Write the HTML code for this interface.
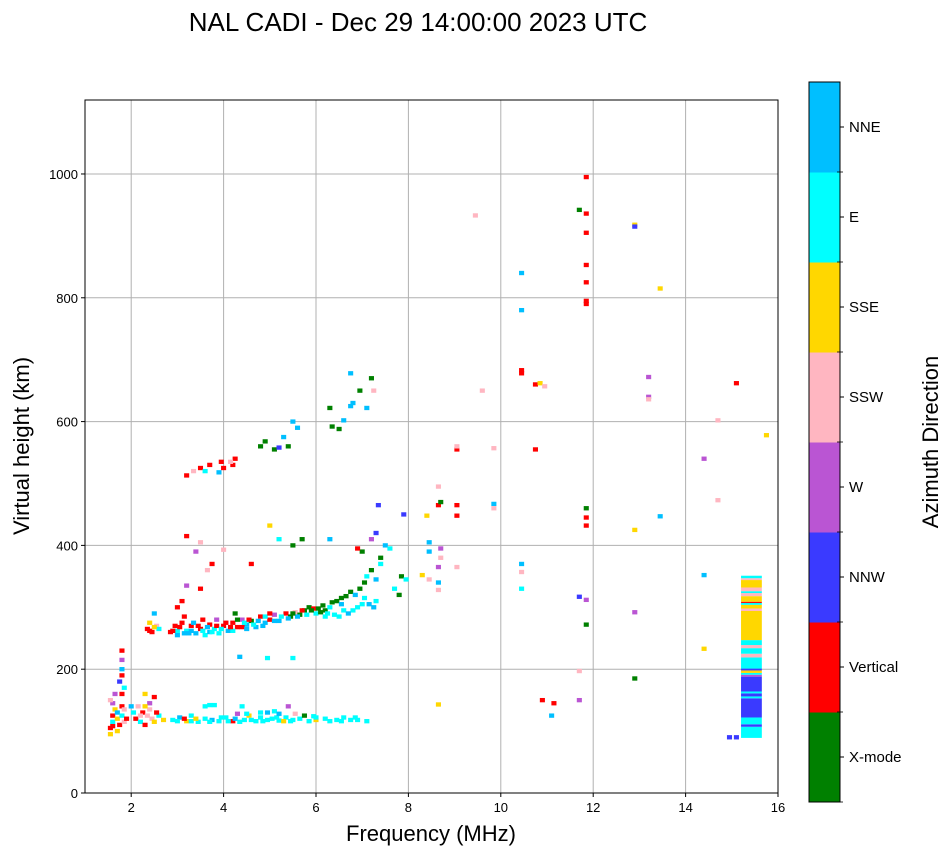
<!DOCTYPE html>
<html><head><meta charset="utf-8"><style>
body{margin:0;background:#fff;}
svg text{font-family:"Liberation Sans",sans-serif;}
</style></head><body>
<svg id="chart" width="951" height="856" xmlns="http://www.w3.org/2000/svg">
<text x="418" y="31" font-size="26" text-anchor="middle">NAL CADI - Dec 29 14:00:00 2023 UTC</text>
<g id="grid"></g>
<g id="marks"></g>
<rect x="85" y="100" width="693" height="693" fill="none" stroke="#000" stroke-width="1"/>
<g id="axes"></g>
<text x="431" y="841" font-size="22" text-anchor="middle">Frequency (MHz)</text>
<text transform="translate(29,446) rotate(-90)" font-size="22" text-anchor="middle">Virtual height (km)</text>
<g id="cbar"></g>
<text transform="translate(938,442) rotate(-90)" font-size="22" text-anchor="middle">Azimuth Direction</text>
</svg>
<script>
const categories=["X-mode","Vertical","NNW","W","SSW","SSE","E","NNE"];
const catColors=["#008000","#ff0000","#3a3aff","#ba55d3","#ffb6c1","#ffd700","#00ffff","#00bfff"];
const xTicks=[2,4,6,8,10,12,14,16];
const yTicks=[0,200,400,600,800,1000];
const pts=[
[1.55,95,5],[1.55,105,1],[1.6,115,6],[1.6,125,1],[1.65,135,5],[1.6,145,3],[1.7,120,5],[1.7,130,7],[1.75,110,1],[1.8,140,1],[1.8,125,6],[1.85,115,4],[1.8,160,1],[1.8,200,7],[1.8,215,3],[1.8,230,1],[1.75,180,2],[1.85,170,6],[1.8,190,1],[1.55,150,4],[1.65,160,3],[1.6,108,1],[1.7,100,5],[1.85,135,4],[1.9,120,1],
[2.05,130,6],[2.1,120,1],[2.15,140,4],[2.2,115,6],[2.25,130,1],[2.3,110,1],[2.3,160,5],[2.35,125,4],[2.4,145,3],[2.45,120,4],[2.5,115,5],[2.5,155,1],[2.6,125,6],[2.7,118,5],[2.4,135,4],[2.3,140,5],[2.2,125,4],[2.55,130,1],[2.0,140,7],
[2.9,118,6],[3.05,122,7],[3.2,116,5],[3.3,125,6],[3.45,115,6],[3.6,120,6],[3.6,140,6],[3.75,118,7],[3.8,142,6],[3.9,116,6],[4.05,122,6],[4.2,116,1],[4.3,128,3],[4.4,140,6],[4.45,118,6],[4.55,125,5],[4.7,116,6],[4.8,122,6],[4.95,118,6],[5.05,120,6],[5.1,132,6],[5.2,117,6],[5.35,122,6],[5.4,140,3],[5.5,118,6],[5.65,120,6],[5.75,125,0],[5.85,116,6],[6.0,118,5],[6.0,122,6],[6.2,120,6],[6.45,118,6],[6.6,122,6],[6.75,118,6],[6.9,118,6],[7.1,116,6],[4.95,130,7],[5.55,128,4],[3.3,116,6],[4.1,116,6],[4.6,118,6],[5.3,116,5],[3.0,116,6],[3.15,120,1],[3.4,120,5],[3.7,115,6],[3.95,122,6],[4.25,120,7],[4.35,115,6],[4.85,116,6],[5.15,122,6],[5.45,116,6],[5.95,124,6],[6.3,116,6],[6.55,116,6],[6.85,122,6],[3.7,142,6],[4.5,128,6],[4.8,130,6],[5.2,128,7],
[2.35,265,1],[2.4,275,5],[2.45,260,1],[2.55,270,4],[2.6,265,6],[2.85,260,1],[2.95,270,1],[3.0,255,7],[3.1,275,1],[3.15,285,1],[3.2,262,6],[3.3,270,1],[3.4,258,7],[3.5,265,1],[3.55,280,1],[3.6,255,6],[3.7,272,1],[3.8,265,6],[3.85,280,3],[3.9,258,6],[4.0,270,1],[4.1,262,7],[4.2,275,1],[4.3,268,1],[4.4,280,3],[4.5,272,7],[4.6,278,0],[4.7,268,7],[4.8,285,1],[4.9,275,7],[5.0,280,1],[5.1,288,3],[5.2,278,7],[5.35,290,1],[5.45,285,0],[5.55,292,4],[5.65,288,0],[5.75,295,0],[5.85,300,0],[5.95,298,1],[6.0,290,6],[6.2,295,0],[6.3,300,6],[6.45,310,0],[6.55,305,7],[6.65,318,0],[6.75,325,0],[6.85,320,7],[6.95,330,0],[7.05,340,0],[7.1,350,6],[7.2,360,0],[7.3,345,7],[7.4,370,6],[7.15,305,7],[7.3,310,6],[6.5,285,6],[6.8,295,6],[6.2,285,6],[7.7,330,6],[7.8,320,0],[7.85,350,0],[7.5,400,7],[7.4,380,0],[7.6,395,6],[7.3,420,2],[7.35,465,2],[7.2,410,3],[7.0,390,0],[6.9,395,1],[6.3,410,7],[5.7,410,0],[5.5,400,0],[5.2,410,6],[4.6,370,1],[3.65,360,4],[3.4,390,3],[3.2,415,1],[3.75,370,1],[3.5,330,1],[3.0,300,1],[3.1,310,1],[3.2,335,3],[4.35,220,7],[4.95,218,6],[5.5,218,6],[5.0,432,5],[3.5,405,4],[2.5,290,7],[4.0,393,4],[3.3,262,7],[3.7,260,7],[4.2,262,6],[4.9,285,6],[5.6,285,7],[6.1,292,0],[6.6,295,6],[7.0,305,6],[3.0,262,6],[4.4,268,1],
[2.4,262,1],[2.5,268,5],[2.9,262,1],[3.05,268,1],[3.25,258,7],[3.45,270,1],[3.55,262,6],[3.65,268,7],[3.75,260,6],[3.85,270,1],[3.95,265,6],[4.05,275,1],[4.15,268,1],[4.3,280,0],[4.45,275,6],[4.55,280,1],[4.65,272,6],[4.75,278,7],[4.85,270,7],[5.0,290,1],[5.1,278,7],[5.25,285,6],[5.4,282,7],[5.5,290,0],[5.7,295,1],[5.8,288,6],[5.9,295,0],[6.05,298,0],[6.15,303,0],[6.25,290,6],[6.35,308,0],[6.4,288,6],[6.55,315,0],[6.7,290,7],[6.9,300,6],[7.05,315,6],[7.25,300,7],[4.25,290,0],[4.5,265,7],[3.35,275,7],[3.15,258,7],
[3.2,513,1],[3.35,520,4],[3.5,525,1],[3.6,520,6],[3.7,530,1],[3.9,518,7],[4.0,525,1],[4.2,530,1],[4.25,540,1],[4.15,535,4],[3.95,535,1],
[4.8,560,0],[4.9,568,0],[5.1,555,0],[5.2,558,2],[5.3,575,7],[5.4,560,0],[5.5,600,7],[5.6,590,7],[6.3,622,0],[6.35,592,0],[6.5,588,0],[6.6,602,7],[6.75,625,7],[6.8,630,7],[6.75,678,7],[6.95,650,0],[7.1,622,7],[7.2,670,0],[7.25,650,4],
[8.45,390,7],[8.45,405,7],[8.45,345,4],[8.4,448,5],[8.65,340,7],[8.65,365,3],[8.7,380,4],[8.7,395,3],[8.65,465,1],[8.7,470,0],[8.65,495,4],[8.65,328,4],[8.65,143,5],[9.05,555,1],[9.05,560,4],[9.05,448,1],[9.05,465,1],[9.05,365,4],[8.3,352,5],[7.9,450,2],[7.95,345,6],[9.6,650,4],[9.85,467,7],[9.85,460,4],[9.45,933,4],[9.85,557,4],
[10.45,840,7],[10.45,780,7],[10.45,683,1],[10.45,678,1],[10.45,370,7],[10.45,357,4],[10.45,330,6],[10.75,660,1],[10.85,662,5],[10.95,657,4],[10.75,555,1],[10.9,150,1],[11.15,145,1],[11.1,125,7],
[11.85,995,1],[11.7,942,0],[11.85,936,1],[11.85,905,1],[11.85,853,1],[11.85,825,1],[11.85,795,1],[11.85,790,1],[11.85,460,0],[11.85,445,1],[11.85,432,1],[11.85,312,3],[11.7,317,2],[11.85,272,0],[11.7,197,4],[11.7,150,3],
[12.9,918,5],[12.9,915,2],[13.45,815,5],[13.2,672,3],[13.2,640,3],[13.2,636,4],[12.9,425,5],[13.45,447,7],[12.9,292,3],[12.9,185,0],
[14.4,540,3],[14.4,352,7],[14.4,233,5],[14.7,602,4],[14.7,473,4],[15.1,662,1],[15.75,578,5],[14.95,90,2],[15.1,90,2]
];
const ptFreq=pts.map(p=>p[0]);
const ptHeight=pts.map(p=>p[1]);
const ptCat=pts.map(p=>p[2]);
const colLow=[89,107,111,122,153,156,161,164,188,191,194,198,201,219,225,234,239,247,294,298,304,307,309,318,323,326,332,344,347];
const colHigh=[107,111,122,153,156,161,164,188,191,194,198,201,219,225,234,239,247,294,298,304,307,309,318,323,326,332,344,347,351];
const colCat=[6,2,6,2,6,2,6,2,3,6,5,2,6,4,6,4,6,5,4,5,6,1,5,4,6,4,5,4,6];
const colF0=15.2, colF1=15.65;

const NS="http://www.w3.org/2000/svg";
const X0=85,X1=778,Y0=793,Y1=100,FMIN=1,FMAX=16,HMIN=0,HMAX=1119.5;
const xs=f=>X0+(f-FMIN)/(FMAX-FMIN)*(X1-X0);
const ys=h=>Y0-(h-HMIN)/(HMAX-HMIN)*(Y0-Y1);
function mk(tag,attrs,parent){const e=document.createElementNS(NS,tag);for(const k in attrs)e.setAttribute(k,attrs[k]);parent.appendChild(e);return e;}
const grid=document.getElementById('grid'),axes=document.getElementById('axes'),marks=document.getElementById('marks'),cbar=document.getElementById('cbar');
xTicks.forEach(t=>{const x=xs(t);
 const g=mk('line',{x1:x,x2:x,y1:Y1,y2:Y0,stroke:'#b0b0b0','stroke-width':1},grid);
 
 
 mk('line',{x1:x,x2:x,y1:Y0,y2:Y0+4,stroke:'#000'},axes);
 const tx=mk('text',{x:x,y:Y0+19,'font-size':13,'text-anchor':'middle'},axes);tx.textContent=t;
 
 
});
yTicks.forEach(t=>{const y=ys(t);
 const g=mk('line',{x1:X0,x2:X1,y1:y,y2:y,stroke:'#b0b0b0','stroke-width':1},grid);
 
 
 mk('line',{x1:X0-4,x2:X0,y1:y,y2:y,stroke:'#000'},axes);
 const tx=mk('text',{x:X0-7,y:y+5,'font-size':13,'text-anchor':'end'},axes);tx.textContent=t;
 
 
});
const cw=0.11,ch=7;
for(let i=0;i<ptFreq.length;i++){
 const r=mk('rect',{x:xs(ptFreq[i]-cw/2),y:ys(ptHeight[i]+ch/2),width:xs(cw)-xs(0),height:ys(0)-ys(ch),fill:catColors[ptCat[i]]},marks);
 
 
}
for(let i=0;i<colLow.length;i++){
 const r=mk('rect',{x:xs(colF0),y:ys(colHigh[i]),width:xs(colF1)-xs(colF0),height:ys(colLow[i])-ys(colHigh[i]),fill:catColors[colCat[i]]},marks);
 
 
}
const CX=809,CW=31,CT=82,CB=802,seg=(CB-CT)/categories.length;
categories.forEach((c,i)=>{const yb=CB-i*seg;
 const r=mk('rect',{x:CX,y:yb-seg,width:CW,height:seg+0.5,fill:catColors[i]},cbar);
 
 
 const yc=yb-seg/2;
 mk('line',{x1:CX+CW,x2:CX+CW+4,y1:yc,y2:yc,stroke:'#000'},cbar);
 mk('line',{x1:CX+CW-3,x2:CX+CW+3,y1:yb,y2:yb,stroke:'#000','stroke-width':0.8},cbar);
 const tx=mk('text',{x:CX+CW+9,y:yc+5,'font-size':15},cbar);tx.textContent=c;
 
 
});
const fr=mk('rect',{x:CX,y:CT,width:CW,height:CB-CT,fill:'none',stroke:'#000'},cbar);


</script>
</body></html>
